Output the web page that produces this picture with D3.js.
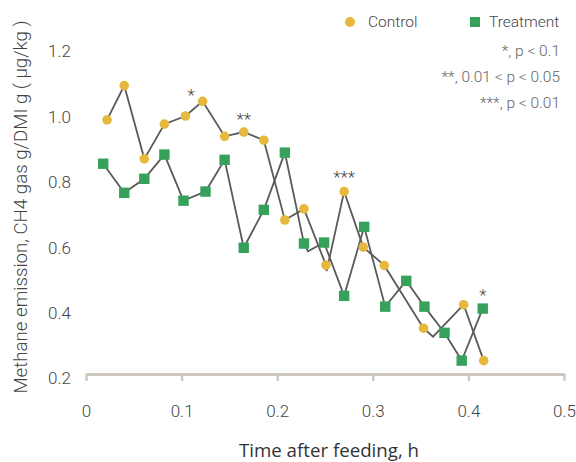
<!DOCTYPE html>
<html>
<head>
<meta charset="utf-8">
<script src="https://cdn.jsdelivr.net/npm/d3@7"></script>
<style>
  body { margin: 0; background: #fff; }
  svg text { font-family: Roboto, "Liberation Sans", sans-serif; font-weight: 300; }
</style>
</head>
<body>
<script>
// values
var controlX = [0.022, 0.040, 0.061, 0.082, 0.104, 0.122, 0.145, 0.165, 0.186, 0.208, 0.228, 0.251, 0.270, 0.290, 0.312, 0.353, 0.395, 0.416];
var controlY = [0.977, 1.082, 0.858, 0.964, 0.989, 1.034, 0.927, 0.940, 0.915, 0.671, 0.705, 0.533, 0.758, 0.588, 0.532, 0.340, 0.412, 0.241];
var treatX = [0.018, 0.040, 0.061, 0.082, 0.102, 0.125, 0.145, 0.165, 0.186, 0.208, 0.228, 0.249, 0.270, 0.291, 0.313, 0.335, 0.354, 0.375, 0.393, 0.415];
var treatY = [0.843, 0.754, 0.797, 0.871, 0.730, 0.758, 0.855, 0.586, 0.702, 0.877, 0.599, 0.602, 0.439, 0.650, 0.406, 0.485, 0.406, 0.326, 0.241, 0.400];
// line vertices without a marker (the lines bend there in the figure)
var controlBends = [[0.2517, 0.515], [0.363, 0.314]];
var treatBends = [[0.2322, 0.575]];

var xTicks = [0, 0.1, 0.2, 0.3, 0.4, 0.5];
var yTicks = [0.2, 0.4, 0.6, 0.8, 1.0, 1.2];

// significance stars
var starX = [0.110, 0.165, 0.270, 0.415];
var starY = [1.058, 0.987, 0.809, 0.449];
var starText = ["*", "**", "***", "*"];

var notes = ["*, p < 0.1", "**, 0.01 < p < 0.05", "***, p < 0.01"];

var w = 576, h = 462;
var yellow = "#e6b83e", green = "#36a15a", lineCol = "#5a5a5a", axisCol = "#cdc9c0";

var svg = d3.select("body").append("svg")
  .attr("width", w)
  .attr("height", h);

var x = d3.scaleLinear().domain([0, 0.5]).range([86, 564]);
var y = d3.scaleLinear().domain([0.2, 1.2]).range([374, 47]);

//x axis
var xAxis = d3.axisBottom(x)
  .tickValues(xTicks)
  .tickSize(7)
  .tickSizeOuter(0)
  .tickPadding(24)
  .tickFormat(function(d) { return d === 0 ? "0" : d3.format(".1f")(d); });

var gx = svg.append("g")
  .attr("transform", "translate(0," + y(0.2) + ")")
  .call(xAxis);
gx.select(".domain").attr("stroke", axisCol).attr("stroke-width", 2.8);
gx.selectAll(".tick line").attr("stroke", axisCol).attr("stroke-width", 2.5);
gx.selectAll(".tick text").attr("font-size", 17).attr("fill", "#444");

// y labels only, no axis line; labels sit a bit under their value in the figure
var yAxis = d3.axisLeft(y)
  .tickValues(yTicks)
  .tickSize(0)
  .tickPadding(0)
  .tickFormat(d3.format(".1f"));

var gy = svg.append("g")
  .attr("transform", "translate(71,4.5)")
  .call(yAxis);
gy.select(".domain").remove();
gy.selectAll(".tick text").attr("font-size", 17).attr("fill", "#444");

// axis titles
svg.append("text")
  .attr("x", 329)
  .attr("y", 457)
  .attr("text-anchor", "middle")
  .attr("font-size", 18.7)
  .attr("fill", "#333")
  .style("font-family", "'Open Sans', 'Noto Sans', sans-serif")
  .style("font-weight", 400)
  .text("Time after feeding, h");

svg.append("text")
  .attr("transform", "translate(27,207) rotate(-90)")
  .attr("text-anchor", "middle")
  .attr("font-size", 18.7)
  .attr("fill", "#444")
  .text("Methane emission, CH4 gas g/DMI g ( \u03bcg/kg )");

// lines
function merge(xs, ys, extra) {
  var pts = xs.map(function(d, i) { return [d, ys[i]]; }).concat(extra);
  return pts.sort(function(a, b) { return a[0] - b[0]; });
}
var line = d3.line().x(function(d) { return x(d[0]); }).y(function(d) { return y(d[1]); });

svg.append("path")
  .datum(merge(treatX, treatY, treatBends))
  .attr("d", line)
  .attr("fill", "none")
  .attr("stroke", lineCol)
  .attr("stroke-width", 1.8);

svg.append("path")
  .datum(merge(controlX, controlY, controlBends))
  .attr("d", line)
  .attr("fill", "none")
  .attr("stroke", lineCol)
  .attr("stroke-width", 1.8);

// markers
svg.append("g").selectAll("circle")
  .data(controlX)
  .enter()
  .append("circle")
  .attr("cx", function(d) { return x(d); })
  .attr("cy", function(d, i) { return y(controlY[i]); })
  .attr("r", 4.8)
  .attr("fill", yellow);

svg.append("g").selectAll("rect")
  .data(treatX)
  .enter()
  .append("rect")
  .attr("x", function(d) { return x(d) - 5.2; })
  .attr("y", function(d, i) { return y(treatY[i]) - 5.2; })
  .attr("width", 10.4)
  .attr("height", 10.4)
  .attr("fill", green);

// stars
svg.append("g").selectAll("text")
  .data(starText)
  .enter()
  .append("text")
  .attr("x", function(d, i) { return x(starX[i]); })
  .attr("y", function(d, i) { return y(starY[i]) + 8; })
  .attr("text-anchor", "middle")
  .attr("font-size", 17)
  .attr("fill", "#444")
  .text(function(d) { return d; });

// legend
var leg = svg.append("g");
leg.append("circle").attr("cx", 350).attr("cy", 22).attr("r", 5).attr("fill", yellow);
leg.append("text").attr("x", 368).attr("y", 27).attr("font-size", 15.5).attr("fill", "#444").text("Control");
leg.append("rect").attr("x", 470).attr("y", 17).attr("width", 10).attr("height", 10).attr("fill", green);
leg.append("text").attr("x", 489).attr("y", 27).attr("font-size", 15.5).attr("fill", "#444").text("Treatment");

svg.append("g").selectAll("text")
  .data(notes)
  .enter()
  .append("text")
  .attr("x", 560)
  .attr("y", function(d, i) { return 56 + i * 26; })
  .attr("text-anchor", "end")
  .attr("font-size", 15.5)
  .attr("fill", "#666")
  .text(function(d) { return d; });
</script>
</body>
</html>
